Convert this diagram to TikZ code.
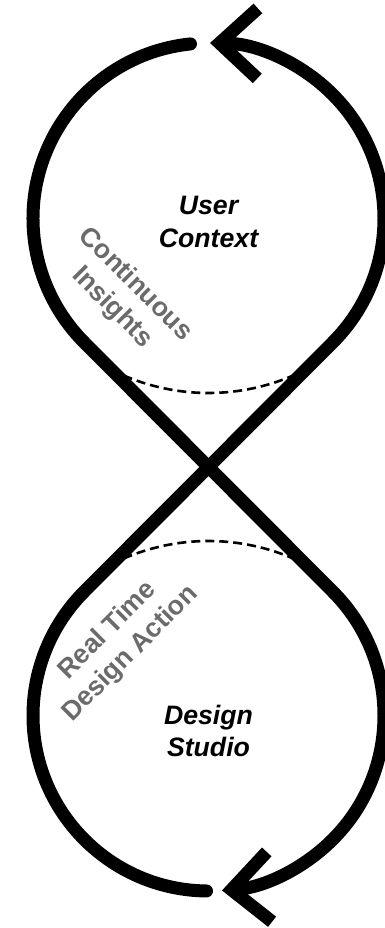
\documentclass[tikz,border=0pt]{standalone}
\usepackage{fontspec}
\setmainfont{Liberation Sans}
\usetikzlibrary{arrows.meta}

\tikzset{
  loopline/.style={line width=13pt, line cap=round},
  looptip/.style={-{Straight Barb[length=38pt, width=70pt, sharp]}},
  ringdash/.style={line width=2.6pt, dash pattern=on 9pt off 5pt},
  looplabel/.style={font=\fontsize{26.67}{32.7}\selectfont\bfseries\itshape,
    align=center, inner sep=0pt, anchor=base},
  sidelabel/.style={font=\fontsize{26.67}{32.7}\selectfont\bfseries,
    text=black!58, align=center, inner sep=0pt, anchor=base}
}

\begin{document}
\begin{tikzpicture}[x=1pt, y=1pt]
    \useasboundingbox (-208.5,-461) rectangle (176.5,467);

    % 1. Centres of the two loops and the crossing
    \coordinate (top) at (0,248.5);
    \coordinate (bot) at (0,-248.5);
    \coordinate (cross) at (0,0);

    % 2. Dashed rings near the crossing
    \draw[ringdash] (-97.5,97.5) arc[start angle=242.9, end angle=297.1, radius=214pt];
    \draw[ringdash] (-97.5,-97.5) arc[start angle=117.1, end angle=62.9, radius=214pt];

    % 3. The figure eight, in two strokes
    \draw[loopline, looptip] ([shift={(95.9:175.5pt)}]top)
        arc[start angle=95.9, end angle=225, radius=175.5pt]
        -- ([shift={(45:175.5pt)}]bot)
        arc[start angle=45, end angle=-85.6, radius=175.5pt];
    \draw[loopline, looptip] ([shift={(-90.65:175.5pt)}]bot)
        arc[start angle=-90.65, end angle=-225, radius=175.5pt]
        -- ([shift={(-45:175.5pt)}]top)
        arc[start angle=-45, end angle=89.5, radius=175.5pt];

    % 4. Labels (base = baseline of the last line)
    \node[looplabel] (usercontext) at (0,219.3) {User\\Context};
    \node[looplabel] (designstudio) at (0,-289.7) {Design\\Studio};
    \node[sidelabel, rotate=-45] (insights) at (-101.3,154.5) {Continuous\\Insights};
    \node[sidelabel, rotate=45] (action) at (-73.0,-191.8) {Real Time\\Design Action};
\end{tikzpicture}
\end{document}
